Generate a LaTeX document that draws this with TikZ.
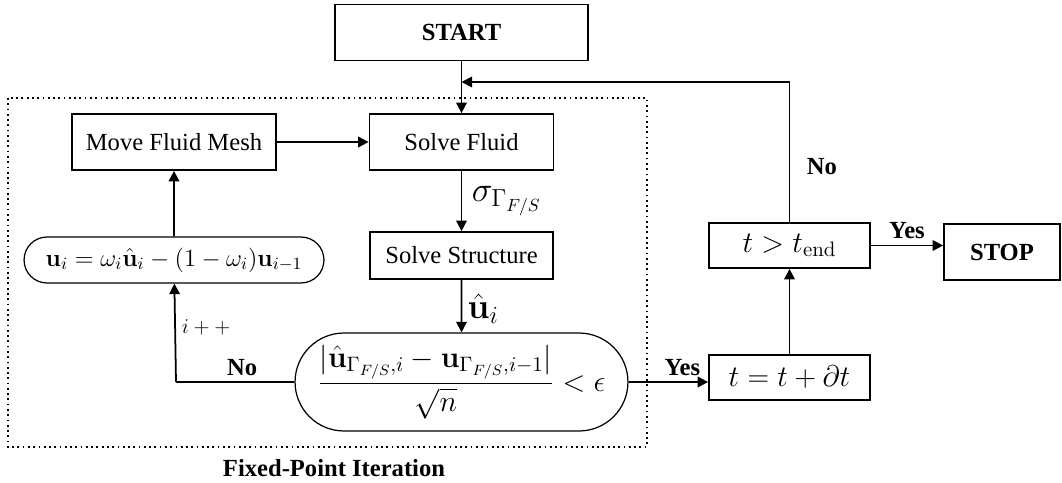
\RequirePackage{fix-cm}
\documentclass[tikz,border=0pt]{standalone}
\usepackage{amsmath}
\usepackage[no-math]{fontspec}
\setmainfont{Liberation Serif}
\usetikzlibrary{shapes.misc, arrows.meta, positioning}

\begin{document}
\begin{tikzpicture}[x=0.02cm, y=-0.02cm,
        box/.style={rectangle, draw, line width=1pt, minimum height=1.12cm, align=center, font=\fontsize{14}{17}\selectfont},
        roundbox/.style={rounded rectangle, draw, line width=0.7pt, align=center, inner sep=2pt, font=\fontsize{14}{17}\selectfont},
        arrow/.style={-{Triangle[length=6pt, width=6pt]}, line width=1pt},
        lbl/.style={font=\fontsize{14}{17}\selectfont\bfseries},
        mlbl/.style={font=\fontsize{20}{24}\selectfont}
    ]
    \useasboundingbox (0,0) rectangle (1062,483);

    % Top
    \node[box, minimum width=5.06cm, font=\fontsize{14}{17}\selectfont\bfseries] (start) at (461.5,32.5) {START};
    \coordinate (merge) at (461.5,82);

    % Fixed-point iteration loop
    \node[box, minimum width=4.08cm] (mesh) at (174,142) {Move Fluid Mesh};
    \node[box, minimum width=3.68cm] (fluid) at (461.5,142) {Solve Fluid};
    \node[box, minimum width=3.66cm, minimum height=0.94cm] (struct) at (461.5,255.5) {Solve Structure};
    \node[roundbox, minimum width=6.14cm, minimum height=0.92cm] (update) at (174,260)
        {$\mathbf{u}_i = \omega_i\hat{\mathbf{u}}_i - (1-\omega_i)\mathbf{u}_{i-1}$};
    \node[roundbox, minimum width=6.8cm, minimum height=1.96cm, font=\fontsize{17}{20}\selectfont] (crit) at (461.5,382)
        {$\dfrac{|\hat{\mathbf{u}}_{\Gamma_{F/S},i} - \mathbf{u}_{\Gamma_{F/S},i-1}|}{\sqrt{n}} < \epsilon$};
    \coordinate (back) at (176,382);
    \draw[dotted, line width=1pt] (8,98) rectangle (647,447);
    \node[lbl] (fpi) at (334,468) {Fixed-Point Iteration};

    % Time stepping
    \node[box, minimum width=3.22cm, minimum height=0.9cm, font=\fontsize{17}{20}\selectfont] (tstep) at (789.5,377.5) {$t = t + \partial t$};
    \node[box, minimum width=3.22cm, minimum height=0.9cm, font=\fontsize{17}{20}\selectfont] (check) at (789.5,245.5) {$t > t_{\mathrm{end}}$};
    \node[box, minimum width=2.32cm, font=\fontsize{14}{17}\selectfont\bfseries] (stop) at (1002,252) {STOP};

    % Connectors
    \draw[arrow] (start) -- (fluid);
    \draw[arrow] (mesh) -- (fluid);
    \draw[arrow] (fluid) -- node[mlbl, right, xshift=2pt]{$\sigma_{\Gamma_{F/S}}$} (struct);
    \draw[arrow] (struct) -- node[mlbl, right, pos=0.55, xshift=2pt, inner sep=1pt]{$\hat{\mathbf{u}}_i$} (crit);
    \draw[line width=1pt] (crit) -- node[lbl, above, xshift=4pt]{No} (back);
    \draw[arrow] (back) -- node[right, pos=0.55, font=\fontsize{12}{14}\selectfont]{$i++$} (update);
    \draw[arrow] (update) -- (mesh);
    \draw[arrow] (crit) -- node[lbl, above, xshift=8pt]{Yes} (crit -| tstep.west);
    \draw[arrow] (tstep) -- (check);
    \draw[arrow] (check) -- node[lbl, above]{Yes} (check -| stop.west);
    \draw[arrow] (check) |- node[lbl, right, pos=0.2, xshift=6pt]{No} (merge);
\end{tikzpicture}
\end{document}
